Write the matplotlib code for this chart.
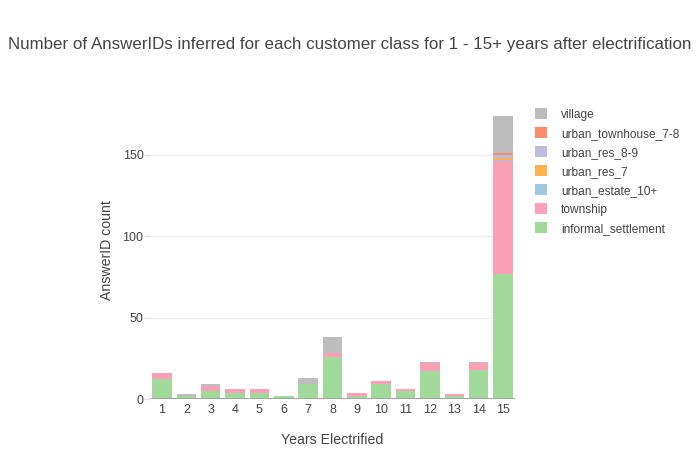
import matplotlib
matplotlib.use("Agg")
import matplotlib.pyplot as plt
import numpy as np

plt.rcParams['font.family'] = ['Liberation Sans', 'DejaVu Sans']

years = ["1", "2", "3", "4", "5", "6", "7", "8", "9", "10", "11", "12", "13", "14", "15"]

# AnswerID counts per customer class, stacked bottom to top
informal_settlement = [12, 2, 5, 4, 4, 2, 9, 26, 2, 9, 5, 17, 2, 18, 77]
township = [4, 0, 3, 2, 2, 0, 0, 2, 2, 2, 1, 5, 1, 4, 69]
urban_estate_10 = [0, 0, 0, 0, 0, 0, 0, 0, 0, 0, 0, 0, 0, 0, 1]
urban_res_7 = [0, 0, 0, 0, 0, 0, 0, 0, 0, 0, 0, 0, 0, 0, 1]
urban_res_8_9 = [0, 0, 0, 0, 0, 0, 0, 0, 0, 0, 0, 0, 0, 0, 2]
urban_townhouse_7_8 = [0, 0, 0, 0, 0, 0, 0, 0, 0, 0, 0, 0, 0, 0, 1]
village = [0, 1, 1, 0, 0, 0, 4, 10, 0, 0, 0, 1, 0, 1, 23]

series = [
    ("informal_settlement", informal_settlement, "#a1d99b"),
    ("township", township, "#fa9fb5"),
    ("urban_estate_10+", urban_estate_10, "#9ecae1"),
    ("urban_res_7", urban_res_7, "#feb24c"),
    ("urban_res_8-9", urban_res_8_9, "#bcbddc"),
    ("urban_townhouse_7-8", urban_townhouse_7_8, "#fc8d6b"),
    ("village", village, "#bdbdbd"),
]

fig = plt.figure(figsize=(7, 4.5), dpi=100)
ax = fig.add_axes([0.214, 0.1133, 0.522, 0.6623])

x = np.arange(len(years))
bottom = np.zeros(len(years))
handles = []
for name, vals, color in series:
    b = ax.bar(x, vals, bottom=bottom, width=0.8, color=color, label=name, zorder=2)
    handles.append(b)
    bottom += np.array(vals)

ax.set_xlim(-0.5, len(years) - 0.5)
ax.set_ylim(0, 183)
ax.set_xticks(x)
ax.set_xticklabels(years)
ax.set_yticks([0, 50, 100, 150])
ax.grid(axis="y", color="#eeeeee", linewidth=1, zorder=0)
ax.axhline(0, color="#a0a0a0", linewidth=2, zorder=3)
for s in ax.spines.values():
    s.set_visible(False)
ax.tick_params(axis="x", length=0, pad=3.5, labelsize=9, colors="#444444")
ax.tick_params(axis="y", length=4, width=1, color="#e0e0e0", pad=0.5, labelsize=9, colors="#444444")

ax.set_xlabel("Years Electrified", fontsize=10.2, color="#444444", labelpad=12)
ax.set_ylabel("AnswerID count", fontsize=10.2, color="#444444", labelpad=6)
fig.text(0.5, 0.902, "Number of AnswerIDs inferred for each customer class for 1 - 15+ years after electrification",
         ha="center", va="center", fontsize=12.2, color="#444444")

leg = fig.legend(handles[::-1], [s[0] for s in series[::-1]], loc="upper left",
                 bbox_to_anchor=(0.757, 0.770), frameon=False, fontsize=8.6,
                 handlelength=1.0, handleheight=1.0, handletextpad=1.2,
                 labelspacing=0.55, borderaxespad=0)
for t in leg.get_texts():
    t.set_color("#444444")

fig.savefig("out.png", dpi=100)
